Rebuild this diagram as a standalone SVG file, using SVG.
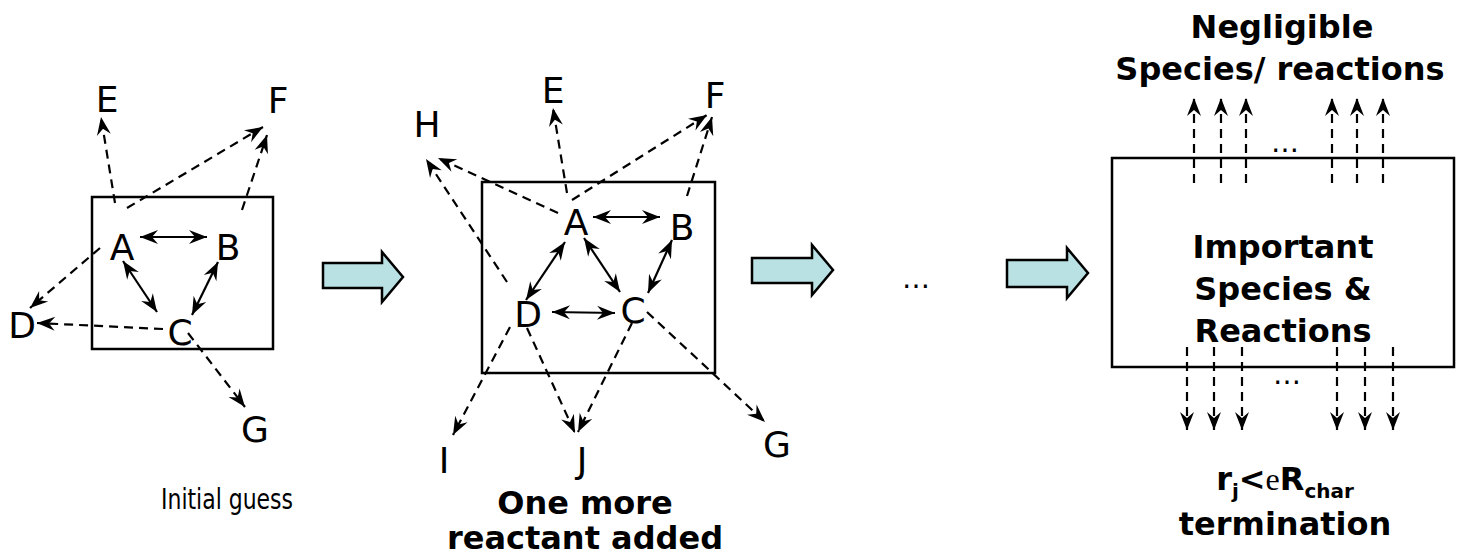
<svg xmlns="http://www.w3.org/2000/svg" width="1460" height="558" viewBox="0 0 1460 558">
<style>
.lbl{font-family:"DejaVu Sans","Liberation Sans",sans-serif;font-size:36px;fill:#000;text-anchor:middle}
.cap{font-family:"DejaVu Sans","Liberation Sans",sans-serif;font-size:28px;fill:#000;text-anchor:middle}
.bold{font-family:"DejaVu Sans","Liberation Sans",sans-serif;font-size:32px;font-weight:bold;fill:#000;text-anchor:middle}
.dots{font-family:"DejaVu Sans","Liberation Sans",sans-serif;font-size:28px;fill:#000;text-anchor:middle}
.box{fill:#fff;stroke:#000;stroke-width:2.5}
.solid{fill:none;stroke:#000;stroke-width:2.2;marker-start:url(#ah);marker-end:url(#ah)}
.dash{fill:none;stroke:#000;stroke-width:2.2;stroke-dasharray:9 6;marker-end:url(#ah)}
.blk{fill:#b9e0e3;stroke:#000;stroke-width:2.5;stroke-linejoin:miter}
</style>
<defs>
<marker id="ah" markerUnits="userSpaceOnUse" viewBox="-20 -9 22 18" refX="0" refY="0" markerWidth="22" markerHeight="18" orient="auto-start-reverse" overflow="visible">
<path d="M0,0 L-18,-7 L-12,0 L-18,7 Z" fill="#000"/>
</marker>
</defs>
<rect width="1460" height="558" fill="#fff"/>

<!-- Panel 1 -->
<g id="panel1">
<rect id="box1" class="box" x="92" y="197" width="181" height="152"/>
</g>
<g id="connectors1">
<path class="solid" d="M140,237 L207,237"/>
<path class="solid" d="M123,261 L157,312"/>
<path class="solid" d="M218,262 L192,315"/>
<path class="dash" d="M115,203 L101,117"/>
<path class="dash" d="M127,208 L263,127"/>
<path class="dash" d="M242,210 L267,135"/>
<path class="dash" d="M100,248 L30,308"/>
<path class="dash" d="M163,329 L37,323"/>
<path class="dash" d="M188,333 L245,407"/>
</g>
<g id="p1-E"><text class="lbl" x="107" y="112">E</text></g>
<g id="p1-F"><text class="lbl" x="278" y="113">F</text></g>
<g id="p1-A"><text class="lbl" x="122" y="260">A</text></g>
<g id="p1-B"><text class="lbl" x="228" y="260">B</text></g>
<g id="p1-D"><text class="lbl" x="22" y="338">D</text></g>
<g id="p1-C"><text class="lbl" x="180" y="345">C</text></g>
<g id="p1-G"><text class="lbl" x="255" y="442">G</text></g>
<g id="caption1"><text class="cap" x="227" y="509" textLength="132" lengthAdjust="spacingAndGlyphs">Initial guess</text></g>

<!-- block arrows -->
<g id="arrow1"><polygon class="blk" points="323,263 382,263 382,252 403,277 382,302 382,288 323,288"/></g>
<g id="arrow2"><polygon class="blk" points="752,258 812,258 812,245 833,270 812,295 812,283 752,283"/></g>
<g id="ellipsis-mid"><text class="dots" x="916" y="288">…</text></g>
<g id="arrow3"><polygon class="blk" points="1007,260 1067,260 1067,248 1088,273 1067,298 1067,287 1007,287"/></g>

<!-- Panel 2 -->
<g id="panel2">
<rect id="box2" class="box" x="482" y="182" width="233" height="191"/>
</g>
<g id="connectors2">
<path class="solid" d="M593,217 L660,217"/>
<path class="solid" d="M565,242 L526,300"/>
<path class="solid" d="M584,238 L620,292"/>
<path class="solid" d="M672,240 L648,293"/>
<path class="solid" d="M552,312 L615,313"/>
<path class="dash" d="M567,193 L553,108"/>
<path class="dash" d="M572,200 L707,115"/>
<path class="dash" d="M687,196 L712,117"/>
<path class="dash" d="M558,213 L438,158"/>
<path class="dash" d="M507,282 L426,159"/>
<path class="dash" d="M510,327 L453,435"/>
<path class="dash" d="M527,328 L575,433"/>
<path class="dash" d="M632,323 L578,432"/>
<path class="dash" d="M647,312 L765,422"/>
</g>
<g id="p2-E"><text class="lbl" x="553" y="103">E</text></g>
<g id="p2-F"><text class="lbl" x="715" y="108">F</text></g>
<g id="p2-H"><text class="lbl" x="427" y="137">H</text></g>
<g id="p2-A"><text class="lbl" x="576" y="235">A</text></g>
<g id="p2-B"><text class="lbl" x="682" y="240">B</text></g>
<g id="p2-D"><text class="lbl" x="528" y="327">D</text></g>
<g id="p2-C"><text class="lbl" x="633" y="323">C</text></g>
<g id="p2-I"><text class="lbl" x="444" y="473">I</text></g>
<g id="p2-J"><text class="lbl" x="582" y="473">J</text></g>
<g id="p2-G"><text class="lbl" x="777" y="457">G</text></g>
<g id="caption2"><text class="bold" x="585" y="514">One more</text><text class="bold" x="585" y="549">reactant added</text></g>

<!-- Panel 3 -->
<g id="panel3">
<rect id="box3" class="box" x="1112" y="158" width="342" height="209"/>
<text class="bold" x="1283" y="258">Important</text>
<text class="bold" x="1283" y="300">Species &amp;</text>
<text class="bold" x="1283" y="342">Reactions</text>
</g>
<g id="connectors3">
<path class="dash" d="M1194,183 L1194,98"/>
<path class="dash" d="M1221,183 L1221,98"/>
<path class="dash" d="M1246,183 L1246,98"/>
<path class="dash" d="M1332,183 L1332,98"/>
<path class="dash" d="M1357,183 L1357,98"/>
<path class="dash" d="M1383,183 L1383,98"/>
<path class="dash" d="M1187,347 L1187,430"/>
<path class="dash" d="M1214,347 L1214,430"/>
<path class="dash" d="M1242,347 L1242,430"/>
<path class="dash" d="M1337,347 L1337,430"/>
<path class="dash" d="M1365,347 L1365,430"/>
<path class="dash" d="M1393,347 L1393,430"/>
</g>
<g id="ellipsis-top"><text class="dots" x="1285" y="152">…</text></g>
<g id="ellipsis-bottom"><text class="dots" x="1287" y="384">…</text></g>
<g id="negligible"><text class="bold" x="1282" y="38">Negligible</text><text class="bold" x="1280" y="80">Species/ reactions</text></g>
<g id="termination">
<text class="bold" x="1285" y="490">r<tspan font-size="20" dy="8">j</tspan><tspan dy="-8">&lt;</tspan><tspan font-family="'Liberation Serif',serif" font-weight="normal">e</tspan>R<tspan font-size="20" dy="8">char</tspan></text>
<text class="bold" x="1285" y="535">termination</text>
</g>
</svg>
